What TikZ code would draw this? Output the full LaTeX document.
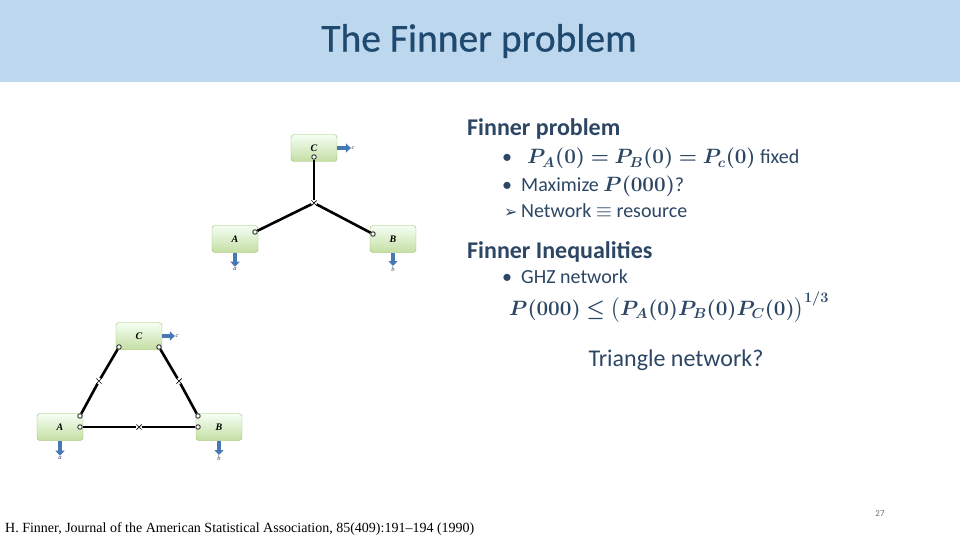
\documentclass[tikz,border=0pt]{standalone}
\usepackage{amsmath,bm}
\usepackage{fontspec}
\setmainfont{Carlito}
\newfontfamily\titleFont[FakeBold=0.6]{Carlito}
\newfontfamily\refFont{Liberation Serif}
\newfontfamily\symFont{DejaVu Sans}
\usetikzlibrary{arrows.meta,positioning,calc,shapes.misc}
\definecolor{band}{RGB}{189,215,238}
\definecolor{titlecol}{RGB}{31,73,110}
\definecolor{bodycol}{RGB}{44,70,100}
\definecolor{boxfill}{RGB}{196,222,164}
\definecolor{boxline}{RGB}{150,190,100}
\definecolor{outblue}{RGB}{70,120,180}
\newcommand{\fs}[1]{\fontsize{#1}{#1}\selectfont}

\begin{document}
\begin{tikzpicture}[x=1pt,y=-1pt,
  party/.style={draw=boxline,rounded corners=3pt,top color=green!4!white,bottom color=boxfill,
    minimum width=46pt,minimum height=27pt,font=\refFont\itshape\bfseries\fs{10}},
  port/.style={circle,draw=black!80,fill=white,line width=0.9pt,inner sep=0pt,minimum size=4.5pt},
  src/.style={cross out,draw,line width=0.7pt,inner sep=0pt,minimum size=4.5pt},
  link/.style={line width=2.6pt},
  output/.style={-{Triangle[length=5pt,width=9pt]},line width=3.5pt,outblue},
  outlab/.style={font=\refFont\itshape\fs{6.5},text=bodycol,inner sep=0.5pt},
  body/.style={anchor=base west,text=bodycol,inner sep=0pt,font=\fs{20}},
  head/.style={anchor=base west,text=bodycol,inner sep=0pt,font=\bfseries\fs{24}}]
\useasboundingbox (0,0) rectangle (960,540);
\fill[white] (0,0) rectangle (960,540);
\fill[band] (0,0) rectangle (960,82);
\node[text=titlecol,font=\titleFont\fs{39.5}] (title) at (479,41) {The Finner problem};

% GHZ (star) network
\node[party] (Cs) at (314,148) {C};
\node[party] (As) at (235,239) {A};
\node[party] (Bs) at (393,239) {B};
\node[port] (pCs) at (314,157) {};
\node[port] (pAs) at (255,232) {};
\node[port] (pBs) at (373,234) {};
\node[src] (ghz) at (314,203) {};
\foreach \p in {pCs,pAs,pBs} \draw[link] (\p) -- (ghz);
\node[outlab] (ocs) at (353,148) {c};
\node[outlab] (oas) at (235,269) {a};
\node[outlab] (obs) at (393,269) {b};
\draw[output] (Cs.east) -- (ocs.west);
\draw[output] (As.south) -- (oas.north);
\draw[output] (Bs.south) -- (obs.north);

% triangle network
\node[party] (Ct) at (139,336) {C};
\node[party] (At) at (60,427) {A};
\node[party] (Bt) at (219,427) {B};
\node[port] (pCa) at (119,347) {};
\node[port] (pCb) at (159,347) {};
\node[port] (pAc) at (80,416) {};
\node[port] (pAb) at (80,427) {};
\node[port] (pBc) at (198,416) {};
\node[port] (pBa) at (198,427) {};
\node[src] (sCA) at (99,381) {};
\node[src] (sCB) at (179,381) {};
\node[src] (sAB) at (139,427) {};
\draw[link] (pCa) -- (sCA) -- (pAc);
\draw[link] (pCb) -- (sCB) -- (pBc);
\draw[link] (pAb) -- (sAB) -- (pBa);
\node[outlab] (oct) at (177,336) {c};
\node[outlab] (oat) at (60,458) {a};
\node[outlab] (obt) at (219,458) {b};
\draw[output] (Ct.east) -- (oct.west);
\draw[output] (At.south) -- (oat.north);
\draw[output] (Bt.south) -- (obt.north);

% text
\node[head] (h1) at (467,136) {Finner problem};
\node[body] (b1) at (502,164) {•};
\node[body] (t1) at (527,164) {{\fs{21}$\bm{P_A(0)=P_B(0)=P_c(0)}$} fixed};
\node[body] (b2) at (502,191) {•};
\node[body] (t2) at (521,191) {Maximize {\fs{21}$\bm{P(000)}$}?};
\node[body] (b3) at (504,217) {\symFont\fs{16}➢};
\node[body] (t3) at (521,217) {Network $\equiv$ resource};
\node[head] (h2) at (467,258) {Finner Inequalities};
\node[body] (b4) at (502,283) {•};
\node[body] (t4) at (521,283) {GHZ network};
\node[body,font=\fs{20.7}] (ineq) at (509,315) {$\bm{P(000)\le\bigl(P_A(0)P_B(0)P_C(0)\bigr)^{1/3}}$};
\node[text=bodycol,font=\fs{24}] (tri) at (676,360) {Triangle network?};

\node[anchor=base west,inner sep=0pt,font=\refFont\fs{14}] (ref) at (5,532)
  {H. Finner, Journal of the American Statistical Association, 85(409):191–194 (1990)};
\node[text=black!55,font=\fs{9}] (page) at (880,514) {27};
\end{tikzpicture}
\end{document}
